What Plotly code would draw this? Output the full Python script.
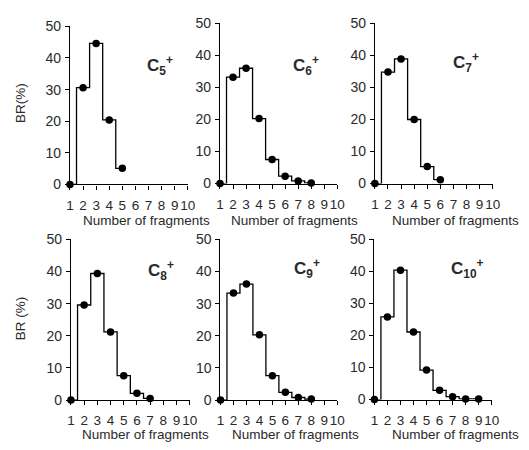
import plotly.graph_objects as go

# ---- data ----
fragments = [1, 2, 3, 4, 5, 6, 7, 8, 9, 10]
panel_labels = ["C<sub>5</sub><sup>+</sup>", "C<sub>6</sub><sup>+</sup>", "C<sub>7</sub><sup>+</sup>",
                "C<sub>8</sub><sup>+</sup>", "C<sub>9</sub><sup>+</sup>", "C<sub>10</sub><sup>+</sup>"]
br_c5 = [0, 30.6, 44.6, 20.4, 5.1]
br_c6 = [0, 33.2, 36.0, 20.3, 7.5, 2.3, 0.8, 0.2]
br_c7 = [0, 34.8, 38.9, 20.0, 5.3, 1.2]
br_c8 = [0, 29.6, 39.4, 21.2, 7.6, 2.1, 0.5]
br_c9 = [0, 33.3, 36.1, 20.3, 7.6, 2.4, 0.8, 0.3]
br_c10 = [0, 25.8, 40.4, 21.1, 9.2, 2.9, 0.9, 0.2, 0.2]
series = [br_c5, br_c6, br_c7, br_c8, br_c9, br_c10]
y_ticks = [0, 10, 20, 30, 40, 50]
x_title = "Number of fragments"
y_titles = ["BR(%)", "BR (%)"]

W, H = 529, 450
# pixel boxes of each plot area: (left, right, top, bottom)
boxes = [(67.5, 188, 19, 183), (221, 341, 16, 182), (379.5, 500, 16, 182),
         (68.5, 190, 240, 406.5), (221.5, 341, 240, 406.5), (379, 499, 240, 406)]
label_pos = [(160, 60), (309, 60), (473, 57), (161, 272), (310, 270), (474, 270)]
xtitle_pos = [(146, 220), (297, 220), (462, 220), (145, 442), (298, 442), (462, 442)]
ytitle_pos = [(17, 99), (17, 322)]

fig = go.Figure()
font_fam = "Liberation Sans, Arial, sans-serif"
txt_col = "#2a2a2a"

for i, (vals, box) in enumerate(zip(series, boxes)):
    n = i + 1
    sfx = "" if n == 1 else str(n)
    xs = fragments[:len(vals)]
    fig.add_trace(go.Scatter(
        x=xs, y=vals, mode="lines+markers", line_shape="hvh",
        line=dict(color="black", width=1.3),
        marker=dict(color="black", size=7.5),
        cliponaxis=False, showlegend=False,
        xaxis="x" + sfx, yaxis="y" + sfx))
    l, r, t, b = box
    fig.layout["xaxis" + sfx] = dict(
        domain=[l / W, r / W], anchor="y" + sfx, range=[1, 10],
        tickmode="array", tickvals=fragments, ticktext=[str(v) for v in fragments],
        ticks="outside", ticklen=4, tickwidth=1, tickcolor="black", tickangle=0,
        showline=True, linecolor="black", linewidth=1.2,
        showgrid=False, zeroline=False, ticklabelstandoff=4,
        tickfont=dict(family=font_fam, size=13.5, color=txt_col))
    fig.layout["yaxis" + sfx] = dict(
        domain=[1 - b / H, 1 - t / H], anchor="x" + sfx, range=[0, 50],
        tickmode="array", tickvals=y_ticks,
        ticks="outside", ticklen=4, tickwidth=1, tickcolor="black",
        showline=True, linecolor="black", linewidth=1.2,
        showgrid=False, zeroline=False, ticklabelstandoff=1,
        tickfont=dict(family=font_fam, size=14, color=txt_col))
    lx, ly = label_pos[i]
    fig.add_annotation(x=lx / W, y=1 - ly / H, xref="paper", yref="paper",
                       xanchor="center", yanchor="middle",
                       text="<b>" + panel_labels[i] + "</b>", showarrow=False,
                       font=dict(family=font_fam, size=17, color=txt_col))
    tx, ty = xtitle_pos[i]
    fig.add_annotation(x=tx / W, y=1 - ty / H, xref="paper", yref="paper",
                       xanchor="center", yanchor="middle",
                       text=x_title, showarrow=False,
                       font=dict(family=font_fam, size=13.5, color=txt_col))

for (yx, yy), t in zip(ytitle_pos, y_titles):
    fig.add_annotation(x=yx / W, y=1 - yy / H, xref="paper", yref="paper",
                       xanchor="center", yanchor="middle",
                       text=t, showarrow=False, textangle=-90,
                       font=dict(family=font_fam, size=13.5, color=txt_col))

fig.update_layout(width=W, height=H, margin=dict(l=0, r=0, t=0, b=0),
                  plot_bgcolor="white", paper_bgcolor="white")
fig.write_html("out.html")
